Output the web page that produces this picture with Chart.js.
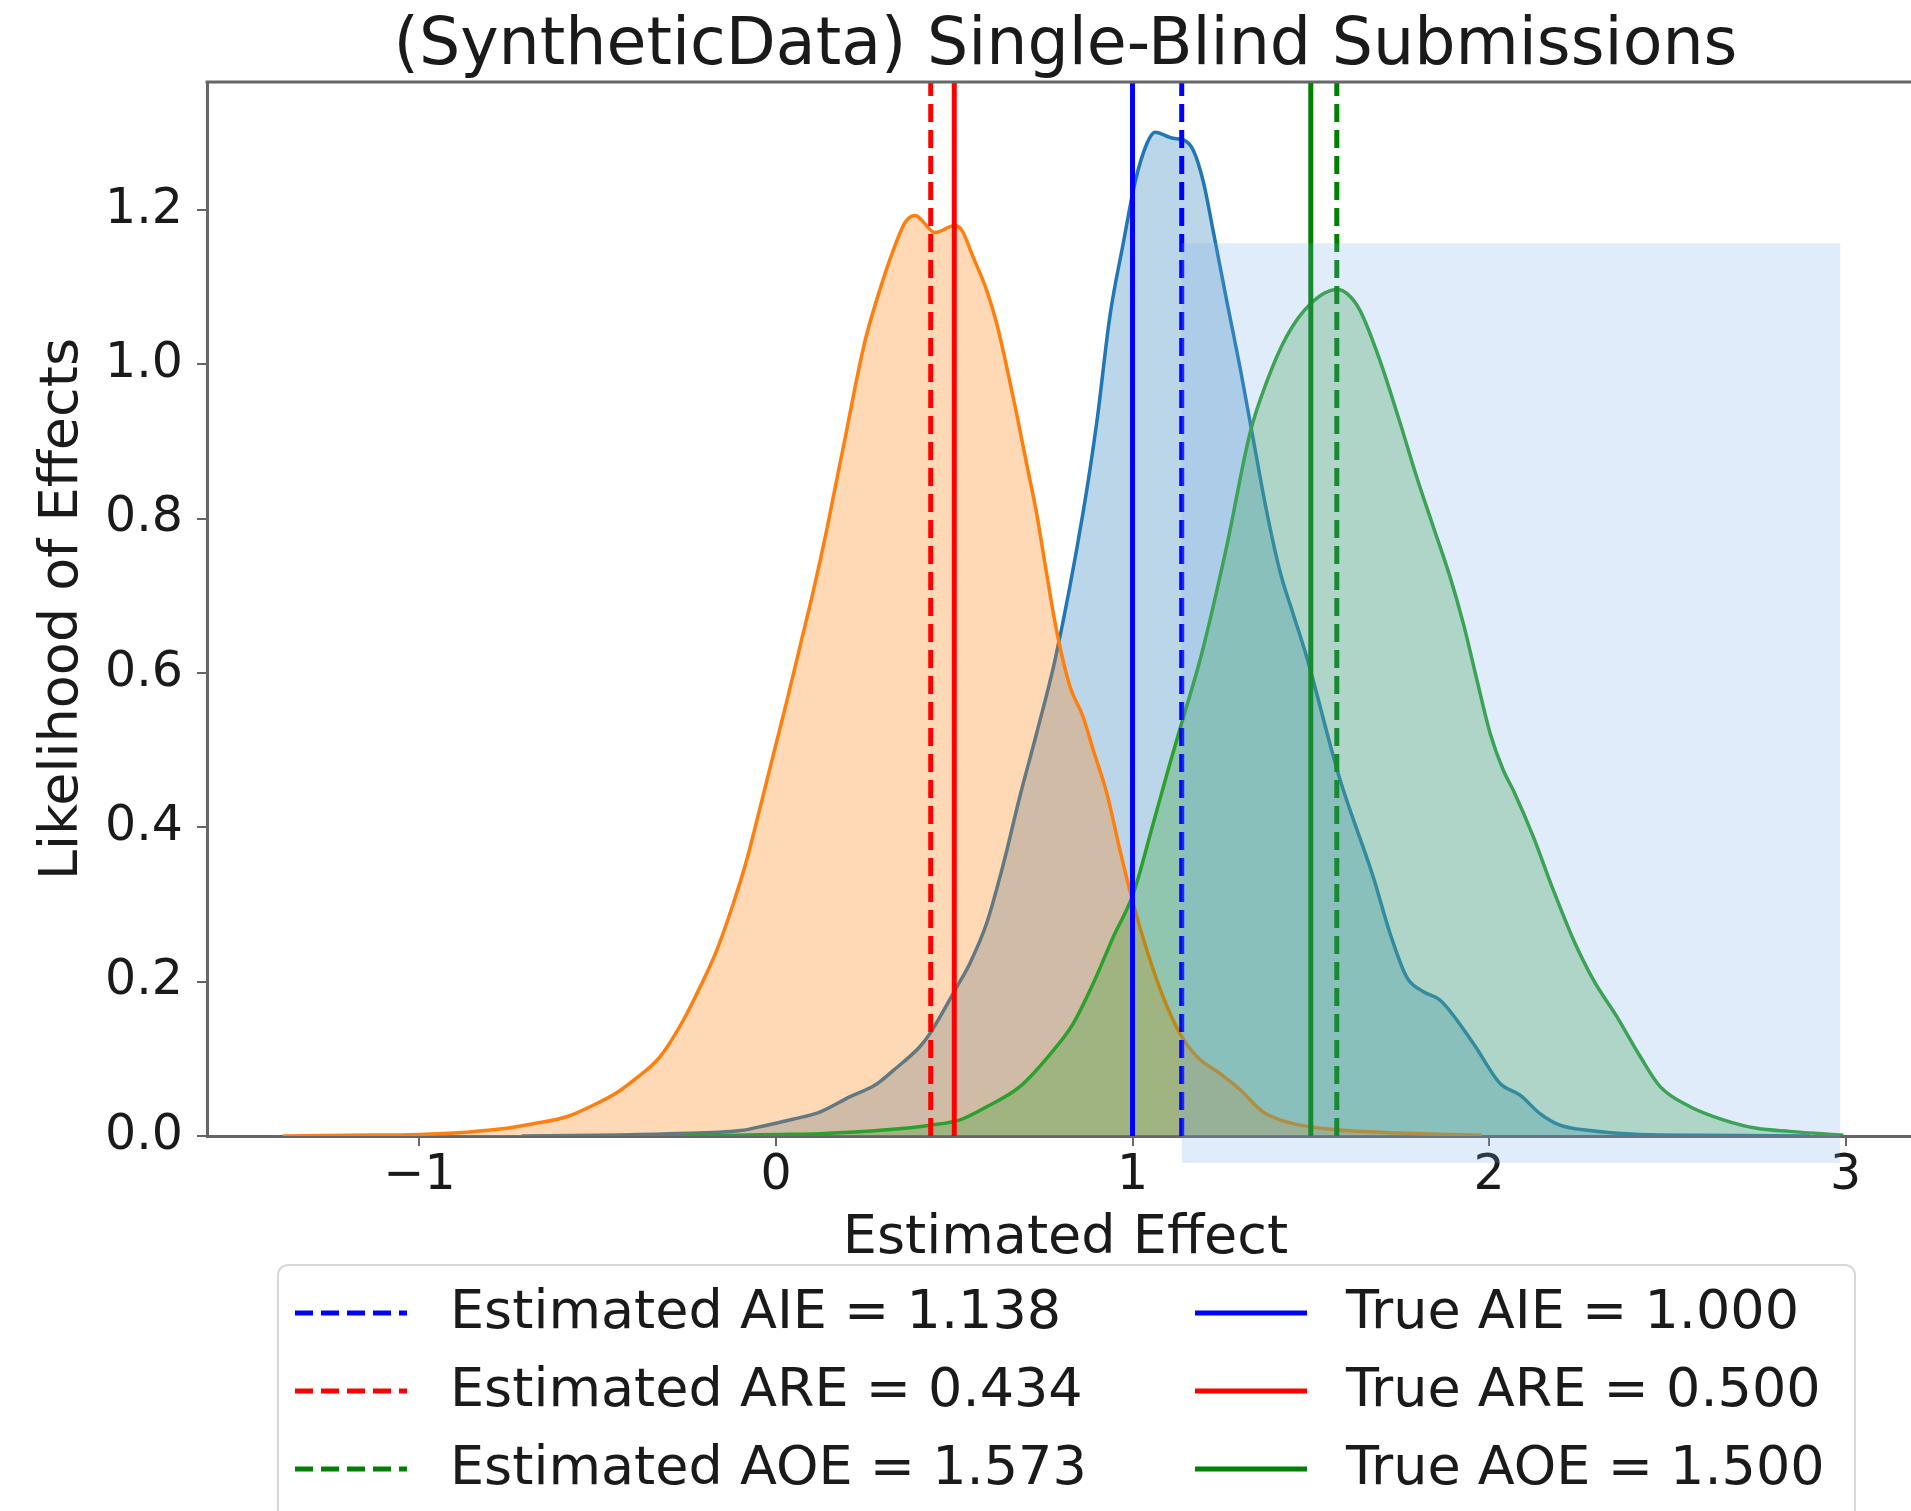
<!DOCTYPE html>
<html lang="en">
<head>
<meta charset="UTF-8">
<title>(SyntheticData) Single-Blind Submissions</title>
<script src="https://cdn.jsdelivr.net/npm/chart.js"></script>
<style>
    html, body { margin: 0; padding: 0; background: #fff; overflow: hidden; }
    /* canvas is a bit wider than the window so the right edge of the axes is cut off like the original */
    #wrap { position: relative; width: 1960px; height: 1511px; }
</style>
</head>
<body>
<div id="wrap"><canvas id="kdeChart"></canvas></div>
<script>
// effects shown as vertical lines (+ legend)
const effectNames = ['AIE', 'ARE', 'AOE'];
const estimatedEffects = [1.138, 0.434, 1.573];
const trueEffects = [1.000, 0.500, 1.500];

// axis ticks
const xTicks = [-1, 0, 1, 2, 3];
const yTicks = [0, 0.2, 0.4, 0.6, 0.8, 1.0, 1.2];

// KDE curves
const aieX = [-0.713, -0.5, -0.3, -0.1, -0.026, 0.05, 0.123, 0.208, 0.278, 0.329, 0.404, 0.432, 0.507, 0.544, 0.591, 0.638, 0.684, 0.731, 0.785, 0.862, 0.900, 0.937, 0.974, 1.007, 1.040, 1.063, 1.114, 1.143, 1.171, 1.199, 1.227, 1.264, 1.302, 1.339, 1.376, 1.414, 1.451, 1.489, 1.580, 1.675, 1.722, 1.769, 1.816, 1.863, 1.956, 2.031, 2.087, 2.143, 2.199, 2.283, 2.424, 2.6, 2.9];
const aieY = [0, 0.001, 0.003, 0.007, 0.014, 0.022, 0.031, 0.051, 0.066, 0.085, 0.116, 0.133, 0.193, 0.224, 0.276, 0.353, 0.440, 0.522, 0.622, 0.810, 0.926, 1.064, 1.157, 1.236, 1.286, 1.301, 1.293, 1.291, 1.277, 1.236, 1.171, 1.083, 0.995, 0.902, 0.810, 0.731, 0.676, 0.620, 0.465, 0.336, 0.263, 0.206, 0.187, 0.176, 0.120, 0.068, 0.053, 0.029, 0.014, 0.007, 0.002, 0.001, 0];

const areX = [-1.383, -1.2, -1.0, -0.868, -0.774, -0.681, -0.587, -0.512, -0.447, -0.400, -0.325, -0.260, -0.213, -0.166, -0.120, -0.082, -0.045, -0.007, 0.030, 0.067, 0.105, 0.142, 0.170, 0.198, 0.222, 0.250, 0.282, 0.329, 0.362, 0.390, 0.446, 0.502, 0.521, 0.553, 0.591, 0.619, 0.647, 0.675, 0.703, 0.731, 0.759, 0.787, 0.825, 0.860, 0.890, 0.928, 0.965, 1.002, 1.040, 1.086, 1.133, 1.180, 1.245, 1.302, 1.367, 1.451, 1.573, 1.750, 1.980];
const areY = [0, 0.001, 0.002, 0.005, 0.009, 0.016, 0.025, 0.040, 0.056, 0.072, 0.103, 0.150, 0.193, 0.241, 0.301, 0.358, 0.425, 0.495, 0.563, 0.634, 0.707, 0.785, 0.850, 0.914, 0.971, 1.031, 1.083, 1.148, 1.184, 1.193, 1.171, 1.180, 1.174, 1.139, 1.096, 1.053, 0.997, 0.936, 0.871, 0.807, 0.729, 0.655, 0.582, 0.545, 0.500, 0.444, 0.370, 0.301, 0.241, 0.180, 0.133, 0.103, 0.081, 0.060, 0.031, 0.016, 0.008, 0.004, 0.001];

const aoeX = [-0.262, -0.1, 0.0, 0.123, 0.310, 0.432, 0.516, 0.591, 0.684, 0.778, 0.834, 0.890, 0.946, 1.002, 1.058, 1.105, 1.143, 1.194, 1.264, 1.330, 1.376, 1.433, 1.498, 1.573, 1.601, 1.638, 1.694, 1.750, 1.797, 1.844, 1.891, 1.928, 1.966, 2.003, 2.040, 2.068, 2.124, 2.180, 2.237, 2.293, 2.358, 2.424, 2.480, 2.564, 2.657, 2.751, 2.844, 2.994];
const aoeY = [0, 0.001, 0.002, 0.003, 0.008, 0.014, 0.021, 0.038, 0.064, 0.111, 0.146, 0.198, 0.258, 0.314, 0.405, 0.483, 0.543, 0.625, 0.764, 0.912, 0.977, 1.037, 1.078, 1.097, 1.092, 1.070, 1.005, 0.925, 0.854, 0.789, 0.724, 0.664, 0.591, 0.522, 0.474, 0.448, 0.388, 0.319, 0.254, 0.202, 0.155, 0.103, 0.064, 0.038, 0.021, 0.010, 0.006, 0.001];

// light blue highlight box (data units)
const highlightX = [1.138, 2.985];
const highlightY = [-0.035, 1.157];

const xRange = [-1.596, 3.22];
const yRange = [0, 1.366];

const FONT = 'DejaVu Sans';
const TEXT = '#1a1a1a';
const SPINE = '#666';

const kdeColors = ['#1f77b4', '#ff7f0e', '#2ca02c'];
const kdeFills = ['rgba(31,119,180,0.3)', 'rgba(255,127,14,0.3)', 'rgba(44,160,44,0.3)'];
const lineColors = ['#0000ff', '#ff0000', '#008000'];

function zip(xs, ys) {
    return xs.map((x, i) => ({x: x, y: ys[i]}));
}

var datasets = [];
[[aieX, aieY], [areX, areY], [aoeX, aoeY]].forEach(([xs, ys], i) => {
    datasets.push({
        label: effectNames[i] + ' density',
        data: zip(xs, ys),
        borderColor: kdeColors[i],
        backgroundColor: kdeFills[i],
        borderWidth: 3.5,
        fill: 'origin',
        pointRadius: 0,
        cubicInterpolationMode: 'monotone',
        order: 10 - i
    });
});

effectNames.forEach((name, i) => {
    datasets.push({
        label: `Estimated ${name} = ${estimatedEffects[i].toFixed(3)}`,
        data: [{x: estimatedEffects[i], y: yRange[0]}, {x: estimatedEffects[i], y: yRange[1]}],
        borderColor: lineColors[i],
        borderWidth: 5,
        borderDash: [18, 8],
        pointRadius: 0,
        fill: false,
        order: 2,
        legendCol: 0,
        legendRow: i
    });
    datasets.push({
        label: `True ${name} = ${trueEffects[i].toFixed(3)}`,
        data: [{x: trueEffects[i], y: yRange[0]}, {x: trueEffects[i], y: yRange[1]}],
        borderColor: lineColors[i],
        borderWidth: 5,
        pointRadius: 0,
        fill: false,
        order: 1,
        legendCol: 1,
        legendRow: i
    });
});

// highlight box + top spine + matplotlib style legend
const extrasPlugin = {
    id: 'extras',
    afterDatasetsDraw(chart) {
        const {ctx, scales: {x, y}} = chart;
        const x0 = x.getPixelForValue(highlightX[0]);
        const x1 = x.getPixelForValue(highlightX[1]);
        const y0 = y.getPixelForValue(highlightY[1]);
        const y1 = y.getPixelForValue(highlightY[0]);
        ctx.save();
        ctx.fillStyle = 'rgba(120,170,230,0.22)';
        ctx.fillRect(x0, y0, x1 - x0, y1 - y0);
        ctx.restore();
    },
    afterDraw(chart) {
        const ctx = chart.ctx;
        const area = chart.chartArea;
        ctx.save();
        ctx.strokeStyle = SPINE;
        ctx.lineWidth = 3;
        ctx.beginPath();
        ctx.moveTo(area.left - 1.5, area.top);
        ctx.lineTo(area.right, area.top);
        ctx.stroke();

        // legend frame
        ctx.beginPath();
        ctx.roundRect(278, 1265, 1577, 320, 10);
        ctx.fillStyle = 'rgba(255,255,255,0.8)';
        ctx.fill();
        ctx.strokeStyle = '#d8d8d8';
        ctx.lineWidth = 2;
        ctx.stroke();

        const handleX = [295, 1195];
        const handleW = 112;
        const textX = [450, 1346];
        const rowY = [1313, 1391, 1469];
        ctx.font = `54px "${FONT}"`;
        ctx.textBaseline = 'middle';
        ctx.textAlign = 'left';
        chart.data.datasets.forEach(d => {
            if (d.legendCol === undefined) return;
            const yy = rowY[d.legendRow];
            const hx = handleX[d.legendCol];
            ctx.strokeStyle = d.borderColor;
            ctx.lineWidth = d.borderWidth;
            ctx.setLineDash(d.borderDash || []);
            ctx.beginPath();
            ctx.moveTo(hx, yy);
            ctx.lineTo(hx + handleW, yy);
            ctx.stroke();
            ctx.setLineDash([]);
            ctx.fillStyle = TEXT;
            ctx.fillText(d.label, textX[d.legendCol], yy + 1);
        });
        ctx.restore();
    }
};

var ctx = document.getElementById('kdeChart').getContext('2d');
var chart = new Chart(ctx, {
    type: 'line',
    data: { datasets: datasets },
    plugins: [extrasPlugin],
    options: {
        responsive: true,
        maintainAspectRatio: false,
        animation: false,
        layout: { padding: { left: 0, right: 36, top: 0, bottom: 0 } },
        scales: {
            x: {
                type: 'linear',
                min: xRange[0],
                max: xRange[1],
                afterBuildTicks: (scale) => { scale.ticks = xTicks.map(v => ({value: v})); },
                afterFit: (scale) => { scale.height = 375; },
                grid: { drawOnChartArea: false, drawTicks: true, tickLength: 10, color: SPINE, lineWidth: 2 },
                border: { display: true, color: SPINE, width: 3 },
                ticks: {
                    padding: 1,
                    maxRotation: 0,
                    color: TEXT,
                    font: { family: FONT, size: 49 },
                    callback: (v) => v < 0 ? '\u2212' + Math.abs(v) : String(v)
                },
                title: {
                    display: true,
                    text: 'Estimated Effect',
                    color: TEXT,
                    font: { family: FONT, size: 54, lineHeight: 1.2 },
                    padding: { top: 0, bottom: 240 }
                }
            },
            y: {
                min: yRange[0],
                max: yRange[1],
                afterBuildTicks: (scale) => { scale.ticks = yTicks.map(v => ({value: v})); },
                afterFit: (scale) => { scale.width = 207; },
                grid: { drawOnChartArea: false, drawTicks: true, tickLength: 10, color: SPINE, lineWidth: 2 },
                border: { display: true, color: SPINE, width: 3 },
                ticks: {
                    padding: 14,
                    color: TEXT,
                    font: { family: FONT, size: 49 },
                    callback: (v) => v.toFixed(1)
                },
                title: {
                    display: true,
                    text: 'Likelihood of Effects',
                    color: TEXT,
                    font: { family: FONT, size: 54, lineHeight: 1.2 },
                    padding: { top: 31, bottom: 0 }
                }
            }
        },
        plugins: {
            legend: { display: false },
            tooltip: { enabled: false },
            title: {
                display: true,
                fullSize: false,
                text: '(SyntheticData) Single-Blind Submissions',
                color: TEXT,
                font: { family: FONT, size: 65, weight: 'normal', lineHeight: 1.0 },
                padding: { top: 15, bottom: 2 }
            }
        }
    }
});
</script>
</body>
</html>
